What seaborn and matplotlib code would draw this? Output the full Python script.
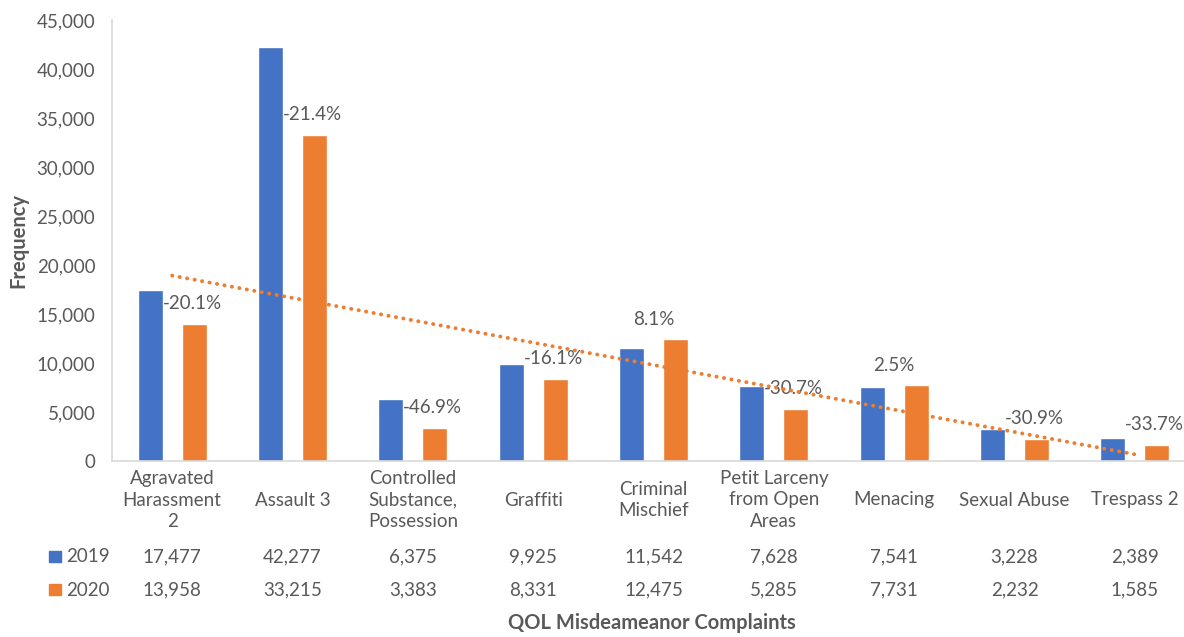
import numpy as np
import pandas as pd
import matplotlib
matplotlib.use("Agg")
import matplotlib.pyplot as plt
import matplotlib.transforms as mtransforms
from matplotlib.patches import Rectangle
import seaborn as sns

categories = ["Agravated\nHarassment\n2", "Assault 3", "Controlled\nSubstance,\nPossession",
              "Graffiti", "Criminal\nMischief", "Petit Larceny\nfrom Open\nAreas",
              "Menacing", "Sexual Abuse", "Trespass 2"]
years = ["2019", "2020"]
values_2019 = [17477, 42277, 6375, 9925, 11542, 7628, 7541, 3228, 2389]
values_2020 = [13958, 33215, 3383, 8331, 12475, 5285, 7731, 2232, 1585]
yticks = [0, 5000, 10000, 15000, 20000, 25000, 30000, 35000, 40000, 45000]

BLUE = "#4472C4"
ORANGE = "#ED7D31"
GRAY = "#595959"
AXIS = "#D9D9D9"
FS = 13.5
FS_TITLE = 14.5

sns.set_theme(style="white")
plt.rcParams["font.family"] = ["Lato", "DejaVu Sans"]

df = pd.DataFrame({
    "cat": categories * 2,
    "year": [years[0]] * len(categories) + [years[1]] * len(categories),
    "value": values_2019 + values_2020,
})

W, H = 1184, 637
fig = plt.figure(figsize=(W / 100, H / 100), dpi=100)
ax = fig.add_axes([112 / W, 1 - 461 / H, (1195 - 112) / W, 441 / H])

sns.barplot(data=df, x="cat", y="value", hue="year", order=categories,
            hue_order=years, palette=[BLUE, ORANGE], width=0.733, gap=0.435,
            ax=ax, legend=False, errorbar=None, saturation=1)

n = len(categories)
xs = np.arange(n)
ax.set_xlim(-0.5, n - 0.5)
ax.set_ylim(0, 45000)
ax.set_yticks(yticks)
ax.set_yticklabels([f"{v:,}" for v in yticks], color=GRAY, fontsize=FS)
ax.tick_params(axis="y", length=0, pad=12)
ax.set_xticks([])
ax.set_xlabel("")
ax.set_ylabel("")
for s in ["top", "right"]:
    ax.spines[s].set_visible(False)
ax.spines["left"].set_color(AXIS)
ax.spines["bottom"].set_color(AXIS)
ax.spines["left"].set_linewidth(1.2)
ax.spines["bottom"].set_linewidth(1.2)

# linear trendline of 2020 series
coef = np.polyfit(xs, values_2020, 1)
ax.plot(xs, np.polyval(coef, xs), color=ORANGE, linewidth=2.8,
        linestyle=(0, (0.05, 1.9)), dash_capstyle="round", zorder=5)

# percent change labels
for i, (a, b) in enumerate(zip(values_2019, values_2020)):
    pct = (b - a) / a * 100
    txt = f"{pct:.1f}%"
    if pct < 0:
        ax.annotate(txt, (i - 0.08, b), xytext=(0, 15), textcoords="offset points",
                    ha="left", va="center", color=GRAY, fontsize=FS)
    else:
        ax.annotate(txt, (i, b), xytext=(0, 14), textcoords="offset points",
                    ha="center", va="center", color=GRAY, fontsize=FS)

# category labels and data table
tr = mtransforms.blended_transform_factory(ax.transData, fig.transFigure)
for i, c in enumerate(categories):
    fig.text(i, 1 - 500 / H, c, transform=tr, ha="center", va="center",
             color=GRAY, fontsize=FS, linespacing=1.3)
    fig.text(i, 1 - 557 / H, f"{values_2019[i]:,}", transform=tr, ha="center",
             va="center", color=GRAY, fontsize=FS)
    fig.text(i, 1 - 590 / H, f"{values_2020[i]:,}", transform=tr, ha="center",
             va="center", color=GRAY, fontsize=FS)

for yy, lab, col in [(557, years[0], BLUE), (590, years[1], ORANGE)]:
    fig.add_artist(Rectangle((49 / W, 1 - (yy + 5) / H), 12 / W, 11 / H,
                             transform=fig.transFigure, color=col))
    fig.text(66 / W, 1 - yy / H, lab, ha="left", va="center", color=GRAY, fontsize=FS)

fig.text(18 / W, 1 - 240 / H, "Frequency", rotation=90, ha="center", va="center",
         color=GRAY, fontsize=FS_TITLE, fontweight="bold")
fig.text(652 / W, 1 - 623 / H, "QOL Misdeameanor Complaints", ha="center", va="center",
         color=GRAY, fontsize=FS_TITLE, fontweight="bold")

fig.savefig("out.png", dpi=100, facecolor="white")
